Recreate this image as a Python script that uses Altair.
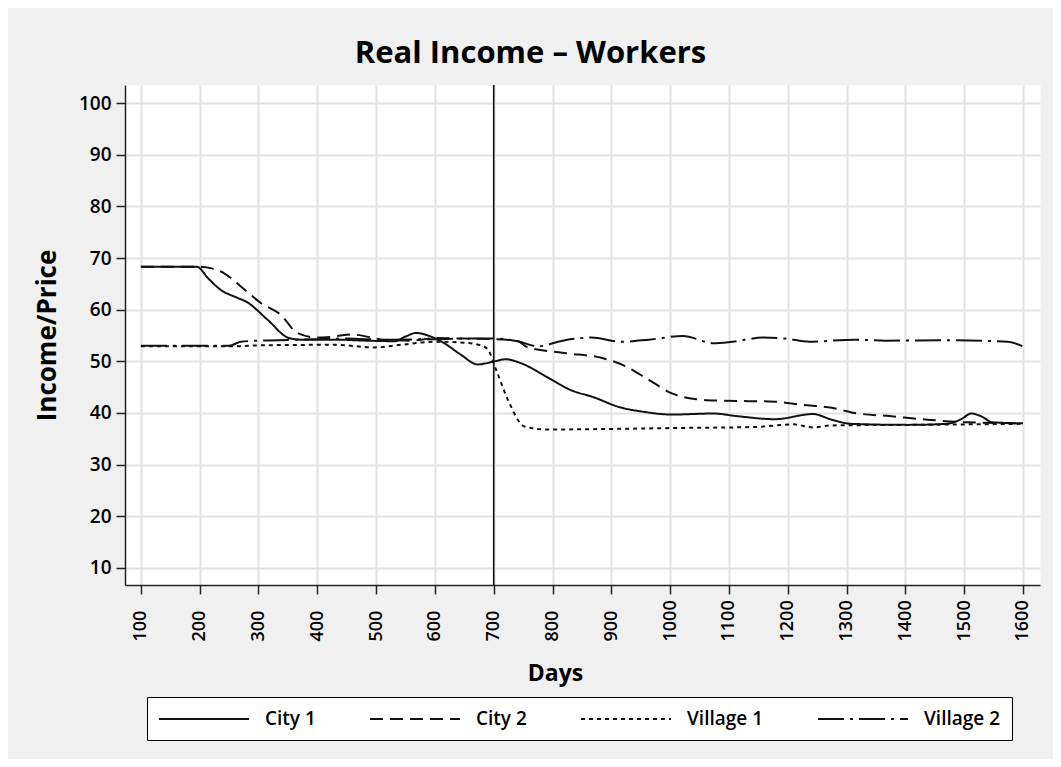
import altair as alt
import pandas as pd

series_names = ["City 1", "City 2", "Village 1", "Village 2"]
dash_styles = [[1, 0], [13, 7], [4, 4], [26, 6, 3, 6]]

city1_days = [100, 195, 215, 235, 264, 280, 315, 352, 372, 430, 485, 531, 550, 568, 593, 616, 644, 673, 701, 720, 745, 790, 834, 866, 918, 951, 1003, 1074, 1113, 1178, 1243, 1275, 1308, 1405, 1470, 1495, 1512, 1530, 1548, 1600]
city1_vals = [68.3, 68.3, 66.0, 63.9, 62.3, 61.5, 58.1, 54.5, 54.2, 54.2, 54.0, 53.9, 54.8, 55.5, 54.8, 53.5, 51.3, 49.4, 50.0, 50.4, 49.7, 47.0, 44.3, 43.2, 41.0, 40.3, 39.7, 39.9, 39.4, 38.8, 39.8, 38.7, 37.9, 37.7, 37.9, 38.8, 39.9, 39.3, 38.2, 38.0]

city2_days = [100, 201, 220, 241, 270, 304, 338, 366, 400, 428, 457, 514, 560, 599, 650, 701, 741, 756, 821, 886, 925, 964, 1003, 1042, 1081, 1178, 1223, 1275, 1314, 1373, 1438, 1503, 1600]
city2_vals = [68.3, 68.3, 68.0, 67.1, 64.5, 61.3, 59.0, 55.5, 54.6, 54.8, 55.2, 54.2, 54.0, 54.5, 54.4, 54.3, 53.9, 52.8, 51.6, 50.6, 49.0, 46.4, 43.8, 42.7, 42.4, 42.2, 41.6, 41.0, 40.0, 39.4, 38.7, 38.2, 38.0]

village1_days = [100, 258, 303, 428, 497, 542, 599, 650, 678, 690, 704, 724, 752, 792, 886, 1016, 1145, 1210, 1243, 1275, 1405, 1600]
village1_vals = [52.9, 52.9, 53.1, 53.2, 52.7, 53.2, 53.8, 53.6, 53.1, 52.3, 48.4, 42.6, 37.4, 36.8, 36.9, 37.1, 37.3, 37.8, 37.2, 37.6, 37.7, 37.9]

village2_days = [100, 250, 270, 300, 372, 450, 514, 599, 650, 701, 741, 775, 821, 866, 918, 964, 1022, 1074, 1106, 1158, 1197, 1236, 1314, 1366, 1470, 1574, 1600]
village2_vals = [53.0, 53.0, 53.8, 54.0, 54.2, 54.4, 54.2, 54.3, 54.4, 54.4, 53.9, 52.9, 54.1, 54.6, 53.8, 54.2, 54.9, 53.5, 53.8, 54.6, 54.4, 53.8, 54.2, 54.0, 54.1, 53.8, 52.9]

event_day = [700]
x_ticks = list(range(100, 1700, 100))
y_ticks = list(range(10, 110, 10))

rows = []
for name, ds, vs in zip(series_names,
                        [city1_days, city2_days, village1_days, village2_days],
                        [city1_vals, city2_vals, village1_vals, village2_vals]):
    for d, v in zip(ds, vs):
        rows.append({"series": name, "day": d, "value": v})
df = pd.DataFrame(rows)
df_event = pd.DataFrame({"day": event_day})

FONT = "Open Sans"

x_scale = alt.Scale(domain=[73, 1629], nice=False, zero=False)
y_scale = alt.Scale(domain=[6.7, 103.5], nice=False, zero=False)

lines = alt.Chart(df).mark_line(color="#111111", strokeWidth=2, interpolate="monotone", clip=True).encode(
    x=alt.X("day:Q", scale=x_scale, axis=alt.Axis(
        values=x_ticks, format="d", title="Days", labelAngle=270, labelAlign="left", labelBaseline="middle",
        labelPadding=47, tickSize=9, titleX=430, titleY=95, titleBaseline="alphabetic",
        titleAlign="center", titleFontSize=23)),
    y=alt.Y("value:Q", scale=y_scale, axis=alt.Axis(
        values=y_ticks, title="Income/Price", tickSize=9, labelPadding=5, labelFontSize=19,
        titleAngle=270, titleX=-78, titleY=250, titleAlign="center", titleBaseline="middle",
        titleFontSize=26)),
    strokeDash=alt.StrokeDash("series:N", scale=alt.Scale(domain=series_names, range=dash_styles),
                              sort=series_names,
                              legend=alt.Legend(title=None, orient="none", legendX=22, legendY=612,
                                                direction="horizontal", columns=4)),
)

rule = alt.Chart(df_event).mark_rule(color="#111111", strokeWidth=1.6).encode(x=alt.X("day:Q", scale=x_scale))

chart = alt.layer(lines, rule).properties(
    width=915, height=500,
    autosize="none",
    padding={"left": 117, "top": 77, "right": 13, "bottom": 174},
    background="#f0f0f0",
    title=alt.TitleParams("Real Income – Workers", fontSize=31, font=FONT, fontWeight="bold",
                          color="#000000", anchor="middle", dx=-52, offset=14),
).configure_view(
    fill="#ffffff", stroke="transparent"
).configure_axis(
    labelFont=FONT, labelFontSize=18, labelFontWeight=600, labelColor="#000000",
    titleFont=FONT, titleFontWeight="bold", titleColor="#000000",
    gridColor="#e2e2e2", gridWidth=2, domainColor="#222222", domainWidth=1.5,
    tickColor="#222222", tickWidth=1.5
).configure_legend(
    labelFont=FONT, labelFontSize=19, labelFontWeight=600, labelColor="#000000",
    symbolType="M-1,0H8", symbolSize=400, symbolStrokeWidth=2, symbolStrokeColor="#111111",
    labelOffset=85, columnPadding=50, padding=11, strokeColor="#000000", fillColor="#ffffff",
    cornerRadius=0
)

chart.save("out.html", embed_options={"renderer": "svg", "actions": False})
